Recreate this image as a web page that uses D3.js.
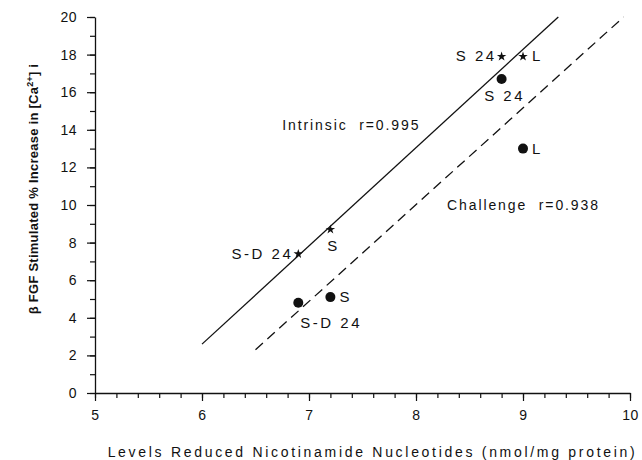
<!DOCTYPE html>
<html>
<head>
<meta charset="utf-8">
<script src="https://cdn.jsdelivr.net/npm/d3@7"></script>
<style>
  body { margin: 0; background: #fff; }
  text { font-family: "Liberation Sans", Arial, sans-serif; fill: #111; }
</style>
</head>
<body>
<div id="chart-area"></div>
<script>
// values
var starX = [6.9, 7.2, 8.8, 9.0];
var starY = [7.4, 8.7, 17.9, 17.9];
var starLabels = ["S-D 24", "S", "S 24", "L"];
var starLabelSide = ["left", "below", "left", "right"];

var dotX = [6.9, 7.2, 8.8, 9.0];
var dotY = [4.8, 5.1, 16.7, 13.0];
var dotLabels = ["S-D 24", "S", "S 24", "L"];
var dotLabelSide = ["belowright", "right", "below", "right"];

// fitted lines (end points)
var intrinsicX = [6.0, 9.33];
var intrinsicY = [2.6, 20];
var challengeX = [6.5, 9.94];
var challengeY = [2.3, 20];

var xTicks = [5, 6, 7, 8, 9, 10];
var yTicks = [0, 2, 4, 6, 8, 10, 12, 14, 16, 18, 20];

var margin = {top: 17, right: 12, bottom: 67, left: 95};
var width = 642 - margin.left - margin.right;   // 535
var height = 460 - margin.top - margin.bottom;  // 376

var svg = d3.select("#chart-area")
    .append("svg")
        .attr("width", 642)
        .attr("height", 460);

var g = svg.append("g")
    .attr("transform", "translate(" + margin.left + "," + margin.top + ")");

var x = d3.scaleLinear().domain([5, 10]).range([0, width]);
var y = d3.scaleLinear().domain([0, 20]).range([height, 0]);

// minor ticks first, then the labelled ones
g.append("g")
    .attr("transform", "translate(0," + height + ")")
    .call(d3.axisBottom(x).ticks(20).tickSize(5).tickFormat(""))
    .call(function(a) { a.select(".domain").remove(); });

g.append("g")
    .attr("transform", "translate(0," + height + ")")
    .call(d3.axisBottom(x).tickValues(xTicks).tickSize(8).tickSizeOuter(0).tickPadding(9).tickFormat(d3.format("d")));

g.append("g")
    .call(d3.axisLeft(y).ticks(20).tickSize(5).tickFormat(""))
    .call(function(a) { a.select(".domain").remove(); });

g.append("g")
    .call(d3.axisLeft(y).tickValues(yTicks).tickSize(8).tickSizeOuter(0).tickPadding(10).tickFormat(d3.format("d")));

g.selectAll(".tick line").attr("stroke", "#111").attr("stroke-width", 1.2);
g.selectAll(".domain").attr("stroke", "#111").attr("stroke-width", 1.3);
g.selectAll(".tick text")
    .attr("font-size", "14px")
    .attr("font-family", "Liberation Sans, Arial, sans-serif")
    .style("letter-spacing", "0.5px")
    .style("fill", "#111");

// regression lines
var line = d3.line()
    .x(function(d) { return x(d[0]); })
    .y(function(d) { return y(d[1]); });

g.append("path")
    .datum(d3.zip(intrinsicX, intrinsicY))
    .attr("d", line)
    .attr("fill", "none")
    .attr("stroke", "#111")
    .attr("stroke-width", 1.3);

g.append("path")
    .datum(d3.zip(challengeX, challengeY))
    .attr("d", line)
    .attr("fill", "none")
    .attr("stroke", "#111")
    .attr("stroke-width", 1.3)
    .attr("stroke-dasharray", "10,6");

// markers
var star = d3.symbol().type(d3.symbolStar).size(28);

g.selectAll("path.star")
    .data(d3.range(starX.length))
    .enter().append("path")
        .attr("class", "star")
        .attr("d", star)
        .attr("transform", function(i) { return "translate(" + x(starX[i]) + "," + y(starY[i]) + ")"; })
        .attr("fill", "#111");

g.selectAll("circle.dot")
    .data(d3.range(dotX.length))
    .enter().append("circle")
        .attr("class", "dot")
        .attr("cx", function(i) { return x(dotX[i]); })
        .attr("cy", function(i) { return y(dotY[i]); })
        .attr("r", 5)
        .attr("fill", "#111");

// point labels
function placeLabel(side) {
    if (side == "left") return {dx: -5, dy: 5, anchor: "end"};
    if (side == "right") return {dx: 9, dy: 5, anchor: "start"};
    if (side == "below") return {dx: 3, dy: 22, anchor: "middle"};
    return {dx: 2, dy: 25, anchor: "start"};  // belowright
}

function addLabels(xs, ys, labels, sides) {
    labels.forEach(function(lab, i) {
        var p = placeLabel(sides[i]);
        g.append("text")
            .attr("x", x(xs[i]) + p.dx)
            .attr("y", y(ys[i]) + p.dy)
            .attr("text-anchor", p.anchor)
            .attr("font-size", "15px")
            .style("letter-spacing", "2.5px")
            .style("white-space", "pre")
            .text(lab);
    });
}
addLabels(starX, starY, starLabels, starLabelSide);
addLabels(dotX, dotY, dotLabels, dotLabelSide);

// line annotations
g.append("text")
    .attr("x", x(6.75))
    .attr("y", y(14.0))
    .attr("font-size", "14px")
    .style("letter-spacing", "1.9px")
    .style("white-space", "pre")
    .text("Intrinsic  r=0.995");

g.append("text")
    .attr("x", x(8.29))
    .attr("y", y(9.75))
    .attr("font-size", "14px")
    .style("letter-spacing", "1.9px")
    .style("white-space", "pre")
    .text("Challenge  r=0.938");

// axis titles
g.append("text")
    .attr("x", width / 2 + 10)
    .attr("y", height + 64)
    .attr("text-anchor", "middle")
    .attr("font-size", "14px")
    .style("letter-spacing", "2.7px")
    .text("Levels Reduced Nicotinamide Nucleotides (nmol/mg protein)");

var yTitle = g.append("text")
    .attr("transform", "translate(" + (-57) + "," + (y(10) - 16) + ") rotate(-90)")
    .attr("text-anchor", "middle")
    .attr("font-size", "13px")
    .attr("font-weight", "bold")
    .style("letter-spacing", "0.25px");
yTitle.append("tspan").text("β FGF Stimulated % Increase in [Ca");
yTitle.append("tspan").attr("dy", -5).attr("font-size", "9px").text("2+");
yTitle.append("tspan").attr("dy", 5).text("] i");
</script>
</body>
</html>
